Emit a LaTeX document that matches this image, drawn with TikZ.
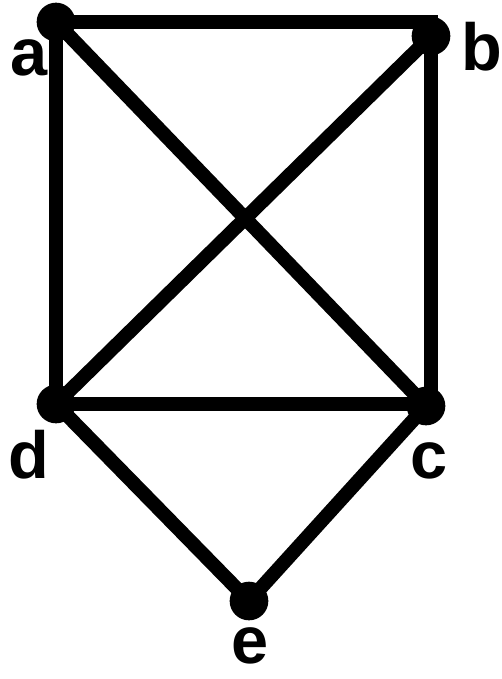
\documentclass[tikz,border=0pt]{standalone}
\usepackage{fontspec}
\setmainfont{Liberation Sans}
\usetikzlibrary{backgrounds}

\begin{document}
\begin{tikzpicture}[x=0.75pt,y=-0.75pt,
  vtx/.style={circle,fill=black,minimum size=29pt,inner sep=0pt},
  lbl/.style={anchor=base,inner sep=0pt,font=\fontsize{50}{50}\selectfont\bfseries},
  edge/.style={draw=black,line width=10.5pt,line cap=rect,line join=miter}
]
\useasboundingbox (0,0) rectangle (501,679);

% vertices
\node[vtx] (a) at (56,22) {};
\node[vtx] (b) at (431,36) {};
\node[vtx] (c) at (426,406) {};
\node[vtx] (d) at (56,404) {};
\node[vtx] (e) at (249,601) {};

% labels
\node[lbl] (la) at (29,75) {a};
\node[lbl] (lb) at (482,70) {b};
\node[lbl] (lc) at (429,478) {c};
\node[lbl] (ld) at (29,478) {d};
\node[lbl] (le) at (250,663) {e};

% edges
\begin{scope}[on background layer]
\draw[edge] (a.center) -- (a.center -| b.center);
\draw[edge] (a.center) -- (d.center);
\draw[edge] (b.center) -- (b.center |- c.center);
\draw[edge] (d.center) -- (d.center -| c.center);
\draw[edge] (a.center) -- (c.center);
\draw[edge] (b.center) -- (d.center);
\draw[edge] (d.center) -- (e.center) -- (c.center);
\end{scope}
\end{tikzpicture}
\end{document}
